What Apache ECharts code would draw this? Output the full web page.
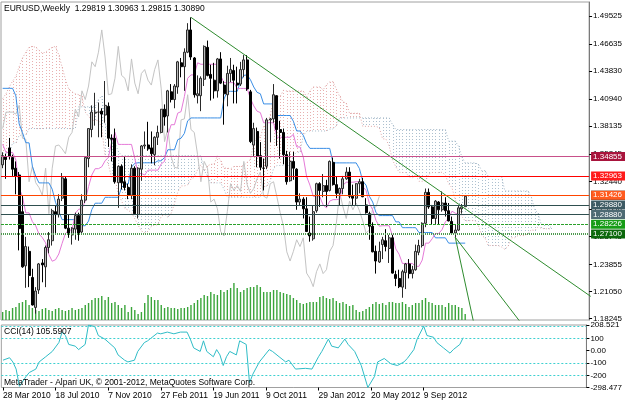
<!DOCTYPE html>
<html>
<head>
<meta charset="utf-8">
<script src="https://cdn.jsdelivr.net/npm/echarts@6/dist/echarts.min.js"></script>
<style>
html, body { margin: 0; padding: 0; background: #fff; }
#main { width: 625px; height: 403px; }
</style>
</head>
<body>
<div id="main"></div>
<script>
// EURUSD weekly bars, first bar = week of 28 Mar 2010
const symbolName = 'EURUSD,Weekly';
const barCount = 141;
const futureBars = 37;
const chikouShift = 26;
const labelEvery = 16;

const opens = [
  1.3415,1.3500,1.3590,1.3490,1.3380,1.3310,1.2930,1.2370,1.2520,1.2250,
  1.1940,1.2120,1.2400,1.2360,1.2560,1.2630,1.2930,1.2900,1.3070,1.3270,
  1.2760,1.2690,1.2750,1.2890,1.2720,1.3050,1.3480,1.3780,1.3950,1.3960,
  1.3970,1.3930,1.4020,1.3690,1.3690,1.3230,1.3400,1.3240,1.3180,1.3100,
  1.3380,1.2900,1.3370,1.3610,1.3620,1.3590,1.3520,1.3700,1.3750,1.3990,
  1.3920,1.4170,1.4090,1.4220,1.4470,1.4430,1.4580,1.4810,1.4520,1.4130,
  1.4130,1.4300,1.4630,1.4350,1.4290,1.4180,1.4510,1.4240,1.4140,1.4360,
  1.4390,1.4260,1.4250,1.4400,1.4500,1.4170,1.3620,1.3760,1.3510,1.3380,
  1.3400,1.3880,1.3890,1.4130,1.3780,1.3750,1.3520,1.3250,1.3450,1.3370,
  1.3030,1.3060,1.2960,1.2710,1.2650,1.2940,1.3220,1.3140,1.3200,1.3150,
  1.3440,1.3210,1.3120,1.3170,1.3270,1.3340,1.3090,1.3070,1.3220,1.3240,
  1.3000,1.2910,1.2780,1.2520,1.2410,1.2590,1.2630,1.2550,1.2660,1.2280,
  1.2240,1.2150,1.2300,1.2390,1.2290,1.2330,1.2510,1.2580,1.2810,1.3130,
  1.2980,1.2860,1.3030,1.2950,1.3020,1.2940,1.2830,1.2710,1.2740,1.2960,
  1.29819
];
const highs = [
  1.3545,1.3530,1.3693,1.3520,1.3450,1.3340,1.3095,1.2670,1.2570,1.2340,
  1.2150,1.2400,1.2440,1.2580,1.2720,1.2960,1.2990,1.3110,1.3330,1.3290,
  1.2900,1.2770,1.2920,1.2920,1.3110,1.3490,1.3790,1.4030,1.4160,1.4060,
  1.4000,1.4282,1.4060,1.3730,1.3790,1.3410,1.3420,1.3500,1.3220,1.3420,
  1.3400,1.3390,1.3620,1.3760,1.3860,1.3760,1.3710,1.3820,1.3990,1.4040,
  1.4190,1.4250,1.4250,1.4490,1.4520,1.4620,1.4880,1.4940,1.4530,1.4340,
  1.4330,1.4650,1.4700,1.4450,1.4470,1.4520,1.4580,1.4280,1.4440,1.4520,
  1.4450,1.4430,1.4480,1.4550,1.4550,1.4190,1.3850,1.3800,1.3650,1.3480,
  1.3900,1.3900,1.4250,1.4135,1.3870,1.3790,1.3560,1.3550,1.3550,1.3380,
  1.3120,1.3080,1.3080,1.2880,1.2990,1.3230,1.3235,1.3320,1.3260,1.3460,
  1.3490,1.3290,1.3180,1.3300,1.3390,1.3390,1.3210,1.3225,1.3270,1.3280,
  1.3070,1.2930,1.2820,1.2580,1.2620,1.2670,1.2750,1.2690,1.2690,1.2320,
  1.2330,1.2330,1.2400,1.2440,1.2370,1.2590,1.2640,1.2820,1.3170,1.3170,
  1.3000,1.3050,1.3040,1.3140,1.3080,1.3020,1.2880,1.2800,1.2990,1.3010,
  1.30963
];
const lows = [
  1.3380,1.3270,1.3470,1.3300,1.3110,1.2530,1.2350,1.2143,1.2150,1.1960,
  1.1876,1.2080,1.2200,1.2150,1.2500,1.2580,1.2710,1.2870,1.3040,1.2750,
  1.2660,1.2590,1.2640,1.2630,1.2700,1.3020,1.3390,1.3700,1.3820,1.3700,
  1.3700,1.3850,1.3600,1.3450,1.3220,1.2970,1.3160,1.3150,1.3060,1.3060,
  1.2900,1.2860,1.3250,1.3580,1.3560,1.3430,1.3410,1.3620,1.3740,1.3820,
  1.3750,1.4060,1.4000,1.4150,1.4320,1.4180,1.4570,1.4500,1.4110,1.4050,
  1.3970,1.4230,1.4330,1.4080,1.4100,1.4110,1.4250,1.3830,1.4020,1.4270,
  1.4050,1.4050,1.4230,1.4320,1.4180,1.3640,1.3500,1.3390,1.3360,1.3150,
  1.3370,1.3650,1.3850,1.3610,1.3480,1.3420,1.3210,1.3240,1.3260,1.2950,
  1.2990,1.2860,1.2720,1.2620,1.2630,1.2920,1.2980,1.3080,1.2980,1.3140,
  1.3200,1.3070,1.2990,1.3110,1.3260,1.3070,1.3000,1.3000,1.3120,1.3080,
  1.2910,1.2640,1.2510,1.2290,1.2400,1.2440,1.2520,1.2400,1.2290,1.2160,
  1.2140,1.2040,1.2130,1.2240,1.2240,1.2320,1.2480,1.2560,1.2770,1.2960,
  1.2800,1.2800,1.2800,1.2930,1.2880,1.2830,1.2700,1.2660,1.2730,1.2910,
  1.29815
];
const closes = [
  1.3510,1.3470,1.3500,1.3370,1.3295,1.2755,1.2360,1.2570,1.2270,1.1965,
  1.2110,1.2390,1.2380,1.2560,1.2640,1.2940,1.2900,1.3060,1.3280,1.2760,
  1.2710,1.2760,1.2890,1.2710,1.3050,1.3490,1.3790,1.3960,1.3960,1.3960,
  1.3940,1.4030,1.3690,1.3680,1.3240,1.3400,1.3230,1.3180,1.3100,1.3380,
  1.2910,1.3380,1.3610,1.3620,1.3580,1.3530,1.3700,1.3750,1.3990,1.3910,
  1.4180,1.4090,1.4230,1.4480,1.4430,1.4580,1.4810,1.4530,1.4140,1.4150,
  1.4310,1.4640,1.4340,1.4310,1.4180,1.4510,1.4260,1.4150,1.4360,1.4400,
  1.4290,1.4240,1.4400,1.4500,1.4200,1.3655,1.3790,1.3500,1.3390,1.3380,
  1.3880,1.3890,1.4140,1.3780,1.3750,1.3520,1.3240,1.3450,1.3380,1.3030,
  1.3060,1.2960,1.2725,1.2680,1.2930,1.3220,1.3150,1.3200,1.3140,1.3450,
  1.3210,1.3120,1.3170,1.3270,1.3340,1.3090,1.3070,1.3220,1.3240,1.3085,
  1.2920,1.2780,1.2515,1.2420,1.2520,1.2640,1.2570,1.2660,1.2295,1.2240,
  1.2155,1.2310,1.2390,1.2290,1.2330,1.2520,1.2580,1.2810,1.3130,1.2980,
  1.2860,1.3040,1.2950,1.3020,1.2940,1.2835,1.2710,1.2740,1.2970,1.2980,
  1.30890
];
// tick volume, thousands
const volumes = [
  8,10,9,12,13,17,18,20,15,12,
  10,9,11,12,10,9,11,12,10,9,
  10,12,10,11,12,15,17,20,22,22,
  24,20,23,17,18,15,12,15,8,13,
  10,6,8,17,25,23,20,20,15,12,
  13,12,12,11,12,12,13,15,17,20,
  22,25,24,28,26,25,30,28,30,32,
  37,32,28,30,32,33,33,35,33,28,
  28,28,30,30,28,27,26,25,22,20,
  17,16,17,18,18,18,23,24,22,21,
  22,19,17,18,16,14,15,10,8,9,
  11,13,16,18,16,17,15,18,18,17,
  17,18,16,13,15,17,17,20,22,18,
  17,15,15,15,13,17,15,15,13,12,
  6
];
const tenkan = [
  1.3628,1.3543,1.3543,1.3543,1.3465,1.3175,1.3085,1.2918,1.2918,1.2827,
  1.2785,1.2698,1.2663,1.2608,1.2486,1.2418,1.2433,1.2493,1.2603,1.2705,
  1.2740,1.2740,1.2915,1.2955,1.2960,1.3040,1.3190,1.3310,1.3375,1.3375,
  1.3395,1.3456,1.3491,1.3651,1.3751,1.3626,1.3626,1.3626,1.3626,1.3626,
  1.3480,1.3325,1.3325,1.3310,1.3360,1.3360,1.3360,1.3360,1.3425,1.3450,
  1.3720,1.3830,1.3830,1.3950,1.3965,1.4120,1.4310,1.4345,1.4345,1.4470,
  1.4455,1.4455,1.4455,1.4455,1.4455,1.4455,1.4335,1.4265,1.4265,1.4265,
  1.4265,1.4205,1.4205,1.4205,1.4205,1.4100,1.4025,1.3970,1.3955,1.3850,
  1.3850,1.3850,1.3850,1.3700,1.3700,1.3700,1.3700,1.3700,1.3730,1.3600,
  1.3600,1.3495,1.3295,1.3205,1.3090,1.3085,1.3085,1.3000,1.2970,1.3040,
  1.3055,1.3055,1.3060,1.3205,1.3235,1.3235,1.3235,1.3240,1.3240,1.3190,
  1.3150,1.3015,1.2950,1.2840,1.2780,1.2785,1.2785,1.2785,1.2680,1.2545,
  1.2490,1.2395,1.2395,1.2395,1.2395,1.2365,1.2365,1.2430,1.2605,1.2605,
  1.2650,1.2705,1.2705,1.2745,1.2825,1.2865,1.2935,1.2915,1.2900,1.2900,
  1.2900
];
const kijun = [
  1.4206,1.4206,1.4206,1.4206,1.4128,1.3838,1.3748,1.3644,1.3642,1.3400,
  1.3298,1.3228,1.3228,1.3228,1.3228,1.3163,1.3028,1.2933,1.2848,1.2848,
  1.2848,1.2848,1.2848,1.2848,1.2785,1.2785,1.2833,1.2953,1.3018,1.3018,
  1.3018,1.3079,1.3079,1.3079,1.3079,1.3079,1.3181,1.3216,1.3216,1.3391,
  1.3431,1.3436,1.3436,1.3436,1.3436,1.3436,1.3436,1.3456,1.3456,1.3491,
  1.3571,1.3571,1.3571,1.3675,1.3690,1.3740,1.3870,1.3900,1.3900,1.3900,
  1.3900,1.3900,1.3900,1.3900,1.3900,1.3900,1.3900,1.4095,1.4175,1.4175,
  1.4175,1.4175,1.4280,1.4340,1.4345,1.4295,1.4220,1.4165,1.4150,1.4045,
  1.4045,1.4045,1.4045,1.3925,1.3925,1.3925,1.3925,1.3925,1.3865,1.3765,
  1.3765,1.3720,1.3635,1.3585,1.3585,1.3585,1.3585,1.3585,1.3585,1.3585,
  1.3435,1.3435,1.3435,1.3435,1.3435,1.3435,1.3435,1.3435,1.3375,1.3245,
  1.3205,1.3090,1.3030,1.2920,1.2890,1.2890,1.2890,1.2890,1.2890,1.2825,
  1.2825,1.2765,1.2765,1.2765,1.2765,1.2765,1.2715,1.2715,1.2715,1.2715,
  1.2715,1.2660,1.2660,1.2660,1.2660,1.2605,1.2605,1.2605,1.2605,1.2605,
  1.2605
];
// cloud edges, already placed 26 bars ahead (167 points)
const spanA = [
  1.4100,1.4150,1.4220,1.4280,1.4330,1.4430,1.4520,1.4580,1.4630,1.4640,
  1.4630,1.4600,1.4570,1.4580,1.4610,1.4630,1.4640,1.4550,1.4425,1.4300,
  1.4200,1.4170,1.4150,1.4140,1.4125,1.3960,1.3917,1.3875,1.3875,1.3875,
  1.3797,1.3507,1.3417,1.3281,1.3280,1.3114,1.3042,1.2963,1.2946,1.2918,
  1.2857,1.2791,1.2731,1.2713,1.2726,1.2777,1.2794,1.2794,1.2882,1.2902,
  1.2873,1.2913,1.3012,1.3132,1.3197,1.3197,1.3207,1.3268,1.3285,1.3365,
  1.3415,1.3353,1.3404,1.3421,1.3421,1.3509,1.3456,1.3381,1.3381,1.3373,
  1.3398,1.3398,1.3398,1.3408,1.3441,1.3471,1.3646,1.3701,1.3701,1.3813,
  1.3828,1.3930,1.4090,1.4123,1.4123,1.4185,1.4178,1.4178,1.4178,1.4178,
  1.4178,1.4178,1.4118,1.4180,1.4220,1.4220,1.4220,1.4190,1.4243,1.4273,
  1.4275,1.4198,1.4123,1.4068,1.4053,1.3948,1.3948,1.3948,1.3948,1.3813,
  1.3813,1.3813,1.3813,1.3813,1.3798,1.3683,1.3683,1.3608,1.3465,1.3395,
  1.3338,1.3335,1.3335,1.3293,1.3278,1.3313,1.3245,1.3245,1.3248,1.3320,
  1.3335,1.3335,1.3335,1.3338,1.3308,1.3218,1.3178,1.3053,1.2990,1.2880,
  1.2835,1.2838,1.2838,1.2838,1.2785,1.2685,1.2658,1.2580,1.2580,1.2580,
  1.2580,1.2565,1.2540,1.2573,1.2660,1.2660,1.2683,1.2683,1.2683,1.2703,
  1.2743,1.2735,1.2770,1.2760,1.2753,1.2753,1.2753
];
const spanB = [
  1.3535,1.3535,1.3535,1.3640,1.3640,1.3720,1.3720,1.3720,1.3790,1.3790,
  1.3790,1.3790,1.3790,1.3790,1.3790,1.3790,1.3790,1.3790,1.3790,1.3790,
  1.3790,1.3790,1.3790,1.4015,1.4015,1.4015,1.4015,1.4015,1.4015,1.4090,
  1.4128,1.3838,1.3748,1.3644,1.3644,1.3553,1.3511,1.3511,1.3511,1.3511,
  1.3511,1.3511,1.3511,1.3511,1.3511,1.3511,1.3511,1.3511,1.3511,1.3511,
  1.3511,1.3511,1.3511,1.3511,1.3511,1.3511,1.3511,1.3511,1.3511,1.3511,
  1.3508,1.3358,1.3298,1.3228,1.3228,1.3228,1.3228,1.3163,1.3079,1.3079,
  1.3079,1.3079,1.3079,1.3079,1.3079,1.3079,1.3079,1.3079,1.3079,1.3183,
  1.3198,1.3248,1.3378,1.3408,1.3408,1.3408,1.3408,1.3408,1.3510,1.3545,
  1.3545,1.3720,1.3760,1.3765,1.3765,1.3765,1.3765,1.3765,1.3765,1.3785,
  1.3785,1.3820,1.3900,1.3900,1.3900,1.3900,1.3900,1.3900,1.3900,1.3900,
  1.3900,1.3900,1.3900,1.3900,1.3900,1.3900,1.3900,1.3900,1.3830,1.3780,
  1.3780,1.3780,1.3780,1.3780,1.3780,1.3780,1.3780,1.3780,1.3780,1.3780,
  1.3780,1.3780,1.3780,1.3780,1.3780,1.3660,1.3660,1.3660,1.3605,1.3495,
  1.3435,1.3435,1.3435,1.3435,1.3420,1.3355,1.3355,1.3295,1.3295,1.3295,
  1.3295,1.3295,1.3145,1.3145,1.3145,1.3145,1.3145,1.3145,1.3145,1.3145,
  1.3085,1.2955,1.2915,1.2800,1.2795,1.2795,1.2765
];
// CCI(14) read at turning points [bar, value]
const cciPoints = [
  [0,-77],[2,-57],[3,-91],[4,-149],[5,-289],[7,-210],[8,-177],[10,-149],[11,-91],[13,-49],
  [15,-6],[17,66],[18,151],[19,123],[20,51],[22,37],[23,9],[25,51],[26,208.521],[28,194],
  [29,123],[31,94],[34,23],[35,-34],[37,-77],[38,-91],[40,-77],[41,-6],[43,66],[44,80],
  [47,143],[48,137],[50,151],[52,137],[54,151],[56,151],[57,94],[58,23],[60,-6],[61,80],
  [62,-6],[64,-49],[65,9],[66,-34],[67,-120],[68,-49],[69,-6],[71,-34],[72,80],[74,51],
  [75,-262],[76,-191],[78,-91],[81,9],[82,-6],[84,-49],[86,-91],[87,-77],[89,-149],[92,-143],
  [94,-149],[96,-49],[97,-6],[99,94],[100,37],[102,23],[104,94],[105,51],[107,-6],[108,-63],
  [109,-120],[111,-298.477],[113,-210],[114,-91],[116,-63],[118,-106],[120,-120],[122,-91],[123,-63],[125,9],
  [126,94],[128,199],[129,123],[131,109],[132,66],[134,23],[136,-20],[137,9],[139,51],[140,105.5907]
];
const cciLevels = [200, 100, -100, -200];
const cciTicks = [208.521, 200, 100, 0, -100, -200, -298.477];
const priceTicks = [1.49525, 1.46635, 1.43830, 1.40940, 1.38135, 1.35245, 1.32440, 1.29550, 1.26745, 1.23855, 1.21050, 1.18245];

// horizontal levels and their price tags (olive line, current bid, then the rest)
const levelPrices = [1.30920, 1.30890, 1.34855, 1.32963, 1.31426, 1.29880, 1.28880, 1.28226, 1.27100];
const levelStyles = [
  { line: { color: '#6b8e23', width: 1, type: 'solid' }, tag: '#000000' },
  { line: { color: '#000', width: 1, opacity: 0 }, tag: '#000000' },
  { line: { color: '#c8508a', width: 1, type: 'solid' }, tag: '#a8143c' },
  { line: { color: '#ff0000', width: 1, type: 'solid' }, tag: '#ff1a1a' },
  { line: { color: '#ff4500', width: 1, type: 'solid' }, tag: '#ff5a1e' },
  { line: { color: '#2f4f4f', width: 1, type: 'solid' }, tag: '#3d5a63' },
  { line: { color: '#2f4f4f', width: 1, type: 'solid' }, tag: '#4d6a73' },
  { line: { color: '#2ca02c', width: 1, type: [3, 1] }, tag: '#169c16' },
  { line: { color: '#4f9a4f', width: 2, type: [1, 1] }, tag: '#0b680b' }
];
// trend lines [barFrom, priceFrom, barTo, priceTo]
const trendLines = [
  [57, 1.4940, 178, 1.2054],
  [137, 1.2665, 143, 1.1715],
  [137, 1.2665, 157, 1.1775]
];

const monthNames = ['Jan','Feb','Mar','Apr','May','Jun','Jul','Aug','Sep','Oct','Nov','Dec'];
const weeks = [];
for (let i = 0; i < barCount + futureBars; i++) {
  const d = new Date(Date.UTC(2010, 2, 28 + 7 * i));
  weeks.push(d.getUTCDate() + ' ' + monthNames[d.getUTCMonth()] + ' ' + d.getUTCFullYear());
}

const font = 'Liberation Sans';
const last = barCount - 1;
const titleText = symbolName + '  ' +
  [opens[last], highs[last], lows[last], closes[last]].map(v => v.toFixed(5)).join(' ');
const cciText = 'CCI(14) ' + cciPoints[cciPoints.length - 1][1].toFixed(4);

const candles = opens.map((o, i) => [o, closes[i], lows[i], highs[i]]);
const chikou = closes.slice(chikouShift).map((c, k) => [k, c]);
const cloud = spanA.map((a, i) => [i, a, spanB[i]]);

const showDate = (index) => index % labelEvery === 0 && index <= last;

function renderCloud(params, api) {
  const i = api.value(0);
  const a = api.value(1);
  const b = api.value(2);
  const top = api.coord([i, Math.max(a, b)]);
  const bot = api.coord([i, Math.min(a, b)]);
  const x = Math.round(top[0]) + 0.5;
  return {
    type: 'line',
    shape: { x1: x, y1: Math.round(top[1]), x2: x, y2: Math.round(bot[1]) },
    style: { stroke: a >= b ? '#e8b0b0' : '#adc0cf', lineWidth: 1, lineDash: [1, 2] }
  };
}

const chart = echarts.init(document.getElementById('main'), null, { renderer: 'canvas' });

const titleStyle = { fontSize: 8.5, fontWeight: 'normal', fontFamily: font, color: '#000' };

const option = {
  backgroundColor: '#fff',
  animation: false,
  textStyle: { fontFamily: font },
  title: [
    { text: titleText, left: 4, top: 4, padding: 0, textStyle: titleStyle },
    { text: cciText, left: 4, top: 327, padding: 0, textStyle: titleStyle },
    { text: 'MetaTrader - Alpari UK, \u00a9 2001-2012, MetaQuotes Software Corp.', left: 4, top: 378, padding: 0, textStyle: titleStyle }
  ],
  grid: [
    { left: 1, top: 2, width: 593, height: 318, show: true, borderColor: '#a0a0a0', borderWidth: 1 },
    { left: 1, top: 325, width: 593, height: 62.5, show: true, borderColor: '#a0a0a0', borderWidth: 1 }
  ],
  xAxis: [
    {
      type: 'category', gridIndex: 0, data: weeks, boundaryGap: true,
      axisLine: { show: false, onZero: false }, axisTick: { show: false }, axisLabel: { show: false }, splitLine: { show: false }
    },
    {
      type: 'category', gridIndex: 1, data: weeks, boundaryGap: true, position: 'bottom',
      axisLine: { show: false, onZero: false },
      axisTick: { show: true, alignWithLabel: true, interval: showDate, length: 3, lineStyle: { color: '#000' } },
      axisLabel: { interval: showDate, align: 'left', margin: 4, fontSize: 8.5, color: '#000' },
      splitLine: { show: false }
    }
  ],
  yAxis: [
    {
      type: 'value', gridIndex: 0, position: 'right', min: 1.1810, max: 1.5099,
      axisLine: { show: true, lineStyle: { color: '#7a7a7a' } },
      axisTick: { show: true, length: 3, customValues: priceTicks, lineStyle: { color: '#000' } },
      axisLabel: { customValues: priceTicks, formatter: v => v.toFixed(5), margin: 4, fontSize: 8, color: '#000', hideOverlap: false },
      splitLine: { show: false }
    },
    { type: 'value', gridIndex: 0, min: 0, max: 318, show: false },
    {
      type: 'value', gridIndex: 1, position: 'right', min: -298.477, max: 208.521,
      axisLine: { show: true, lineStyle: { color: '#7a7a7a' } },
      axisTick: { show: true, length: 3, customValues: cciTicks, lineStyle: { color: '#000' } },
      axisLabel: {
        customValues: cciTicks, margin: 4, fontSize: 8, color: '#000', hideOverlap: false,
        showMinLabel: true, showMaxLabel: true,
        formatter: v => v === 0 ? '0.00' : (Number.isInteger(v) ? String(v) : v.toFixed(3))
      },
      splitLine: { show: false }
    }
  ],
  series: [
    {
      name: 'Volume', type: 'bar', xAxisIndex: 0, yAxisIndex: 1, data: volumes,
      barWidth: 1.4, itemStyle: { color: '#3aa53a' }, silent: true, z: 1
    },
    {
      name: 'Cloud', type: 'custom', xAxisIndex: 0, yAxisIndex: 0, data: cloud,
      renderItem: renderCloud, encode: { x: 0, y: [1, 2] }, silent: true, z: 1
    },
    {
      name: 'Senkou A', type: 'line', xAxisIndex: 0, yAxisIndex: 0, data: spanA,
      symbol: 'none', silent: true, z: 2, lineStyle: { color: '#e0a8a8', width: 1, type: [1, 2] }
    },
    {
      name: 'Senkou B', type: 'line', xAxisIndex: 0, yAxisIndex: 0, data: spanB,
      symbol: 'none', silent: true, z: 2, lineStyle: { color: '#a4b8c8', width: 1, type: [1, 2] }
    },
    {
      name: 'Chikou', type: 'line', xAxisIndex: 0, yAxisIndex: 0, data: chikou,
      symbol: 'none', silent: true, z: 2, lineStyle: { color: '#c4c4c4', width: 1 }
    },
    {
      name: 'Kijun', type: 'line', xAxisIndex: 0, yAxisIndex: 0, data: kijun,
      symbol: 'none', silent: true, z: 2, lineStyle: { color: '#3a8ee6', width: 1 }
    },
    {
      name: 'Tenkan', type: 'line', xAxisIndex: 0, yAxisIndex: 0, data: tenkan,
      symbol: 'none', silent: true, z: 2, lineStyle: { color: '#e57ad8', width: 1 }
    },
    {
      name: 'EURUSD', type: 'candlestick', xAxisIndex: 0, yAxisIndex: 0, data: candles,
      barWidth: 2.5, silent: true, z: 3,
      itemStyle: { color: '#b9b9b9', color0: '#000', borderColor: '#2a2a2a', borderColor0: '#000', borderWidth: 1 }
    },
    ...trendLines.map(t => ({
      type: 'line', xAxisIndex: 0, yAxisIndex: 0, data: [[t[0], t[1]], [t[2], t[3]]],
      symbol: 'none', silent: true, clip: true, z: 4, lineStyle: { color: '#2e8b2e', width: 1 }
    })),
    {
      name: 'Levels', type: 'line', xAxisIndex: 0, yAxisIndex: 0, data: closes,
      showSymbol: false, symbol: 'none', silent: true, z: 5, lineStyle: { opacity: 0 },
      markLine: {
        silent: true, symbol: ['none', 'none'], animation: false,
        data: levelPrices.map((p, k) => ({
          yAxis: p,
          lineStyle: levelStyles[k].line,
          label: {
            show: true, position: 'end', distance: 2, formatter: p.toFixed(5),
            color: '#fff', backgroundColor: levelStyles[k].tag, padding: [1, 3, 0, 2],
            fontSize: 8, fontFamily: font
          }
        }))
      }
    },
    {
      name: 'CCI', type: 'line', xAxisIndex: 1, yAxisIndex: 2, data: cciPoints,
      symbol: 'none', silent: true, z: 3, lineStyle: { color: '#2fbcc6', width: 1 },
      markLine: {
        silent: true, symbol: ['none', 'none'], animation: false,
        label: { show: false },
        lineStyle: { color: '#3dd0d0', width: 1, type: [2, 2] },
        data: cciLevels.map(v => ({ yAxis: v }))
      }
    }
  ]
};

chart.setOption(option);
</script>
</body>
</html>
